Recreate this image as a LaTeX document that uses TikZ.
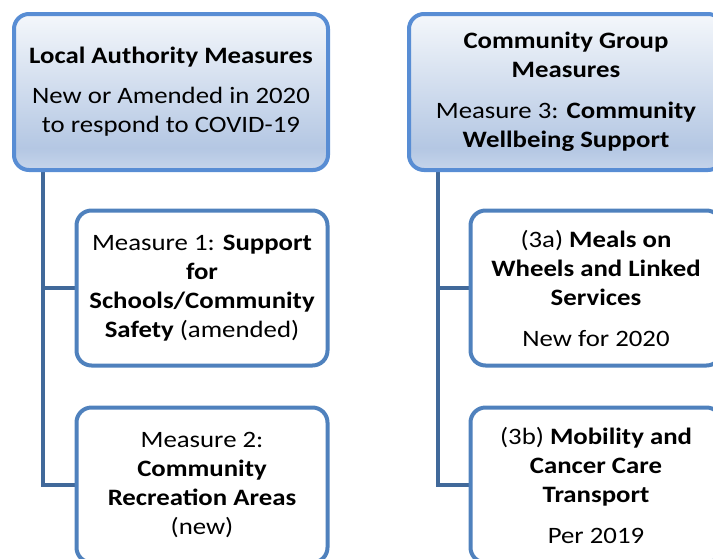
\documentclass[tikz,border=0pt]{standalone}
\usepackage{fontspec}
\setmainfont[FakeStretch=1.14]{Carlito}
\definecolor{topborder}{RGB}{88,141,212}
\definecolor{childborder}{RGB}{79,129,189}
\definecolor{connc}{RGB}{65,105,154}
\definecolor{shtop}{RGB}{244,247,251}
\definecolor{shdark}{RGB}{180,199,227}
\definecolor{shbot}{RGB}{198,213,235}
\pgfdeclareverticalshading{boxshade}{100bp}{color(0bp)=(shbot); color(25bp)=(shbot); color(32bp)=(shdark); color(75bp)=(shtop); color(100bp)=(shtop)}
\pgfdeclarelayer{background}
\pgfsetlayers{background,main}
\tikzset{
  basebox/.style={rounded corners=15pt, line width=4pt, align=center, inner sep=0pt,
    font=\fontsize{23.5}{29}\selectfont},
  headbox/.style={basebox, draw=topborder, shading=boxshade, minimum width=314pt, minimum height=156pt},
  childbox/.style={basebox, draw=childborder, fill=white, minimum width=251pt, minimum height=155pt},
  conn/.style={draw=connc, line width=4pt}
}
\begin{document}
\begin{tikzpicture}[x=1pt,y=-1pt]
\useasboundingbox (0,0) rectangle (713,558);
\clip (0,0) rectangle (713,558);
\node[headbox] (lt) at (171,92) {\textbf{Local Authority Measures}\\[11pt] New or Amended in 2020\\ to respond to COVID-19};
\node[headbox] (rt) at (566,92) {\textbf{Community Group}\\ \textbf{Measures}\\[12pt] Measure 3: \textbf{Community}\\ \textbf{Wellbeing Support}};
\node[childbox] (lc1) at (202,288) {Measure 1: \textbf{Support}\\ \textbf{for}\\ \textbf{Schools/Community}\\ \textbf{Safety} (amended)};
\node[childbox] (lc2) at (202,485) {Measure 2:\\ \textbf{Community}\\ \textbf{Recreation Areas}\\ (new)};
\node[childbox] (rc1) at (596,288) {(3a) \textbf{Meals on}\\ \textbf{Wheels and Linked}\\ \textbf{Services}\\[12pt] New for 2020};
\node[childbox] (rc2) at (596,485) {(3b) \textbf{Mobility and}\\ \textbf{Cancer Care}\\ \textbf{Transport}\\[12pt] Per 2019};
\coordinate (lroot) at ([xshift=31pt]lt.south west);
\coordinate (rroot) at ([xshift=30.5pt]rt.south west);
\begin{pgfonlayer}{background}
\draw[conn] (lroot) |- (lc1.west);
\draw[conn] (lroot) |- (lc2.west);
\draw[conn] (rroot) |- (rc1.west);
\draw[conn] (rroot) |- (rc2.west);
\end{pgfonlayer}
\end{tikzpicture}
\end{document}
